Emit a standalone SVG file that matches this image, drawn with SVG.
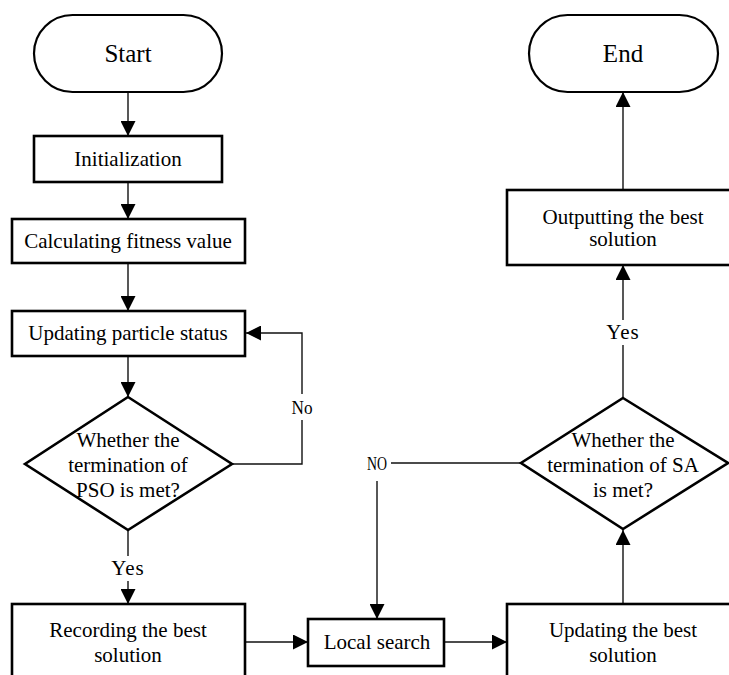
<svg xmlns="http://www.w3.org/2000/svg" width="729" height="675" viewBox="0 0 729 675">
<style>
.box{fill:#fff;stroke:#000;stroke-width:2.6}
.pill{fill:#fff;stroke:#000;stroke-width:2.2}
.dia{fill:#fff;stroke:#000;stroke-width:2.6}
.t{font-family:"Liberation Serif","Times New Roman",serif;font-size:21px;fill:#000;text-anchor:middle}
.tl{font-family:"Liberation Serif","Times New Roman",serif;font-size:25px;fill:#000;text-anchor:middle}
.lbl{font-family:"Liberation Serif","Times New Roman",serif;font-size:21px;fill:#000;text-anchor:middle;letter-spacing:1px}
.sm{font-family:"Liberation Serif","Times New Roman",serif;font-size:19px;fill:#000;text-anchor:middle}
.c{fill:none;stroke:#111;stroke-width:1.4}
.bg{fill:#fff;stroke:none}
</style>
<defs>
<marker id="ah" markerUnits="userSpaceOnUse" markerWidth="15" markerHeight="15" refX="15" refY="7.5" orient="auto">
<path d="M0,0 L15,7.5 L0,15 z" fill="#000"/>
</marker>
</defs>
<rect width="729" height="675" fill="#fff"/>
<g id="connectors">
<line class="c" x1="128" y1="92" x2="128" y2="136" marker-end="url(#ah)"/>
<line class="c" x1="128" y1="182" x2="128" y2="219" marker-end="url(#ah)"/>
<line class="c" x1="128" y1="263" x2="128" y2="311" marker-end="url(#ah)"/>
<line class="c" x1="128" y1="356" x2="128" y2="397" marker-end="url(#ah)"/>
<polyline class="c" points="232,464 302,464 302,333 246,333" marker-end="url(#ah)"/>
<rect class="bg" x="290" y="394" width="24" height="26"/>
<text class="sm" x="302" y="414" textLength="21" lengthAdjust="spacingAndGlyphs">No</text>
<line class="c" x1="128" y1="530" x2="128" y2="604" marker-end="url(#ah)"/>
<rect class="bg" x="110" y="556" width="36" height="25"/>
<text class="lbl" x="128" y="575">Yes</text>
<line class="c" x1="245" y1="642" x2="308" y2="642" marker-end="url(#ah)"/>
<line class="c" x1="444" y1="642" x2="507" y2="642" marker-end="url(#ah)"/>
<line class="c" x1="623" y1="604" x2="623" y2="530" marker-end="url(#ah)"/>
<polyline class="c" points="521,463 377,463 377,619" marker-end="url(#ah)"/>
<rect class="bg" x="365" y="450" width="26" height="31"/>
<text class="sm" x="377" y="470" textLength="20" lengthAdjust="spacingAndGlyphs">NO</text>
<line class="c" x1="623" y1="398" x2="623" y2="265" marker-end="url(#ah)"/>
<rect class="bg" x="605" y="320" width="36" height="25"/>
<text class="lbl" x="623" y="339">Yes</text>
<line class="c" x1="623" y1="190" x2="623" y2="92" marker-end="url(#ah)"/>
</g>
<g id="start">
<rect class="pill" x="34" y="15" width="188" height="77" rx="38.5" ry="38.5"/>
<text class="tl" x="128" y="62">Start</text>
</g>
<g id="init">
<rect class="box" x="34" y="136" width="188" height="46"/>
<text class="t" x="128" y="166">Initialization</text>
</g>
<g id="fitness">
<rect class="box" x="12" y="219" width="233" height="44"/>
<text class="t" x="128" y="248">Calculating fitness value</text>
</g>
<g id="update">
<rect class="box" x="12" y="311" width="233" height="45"/>
<text class="t" x="128" y="340">Updating particle status</text>
</g>
<g id="psoCheck">
<polygon class="dia" points="128,397 232,464 128,530 25,464"/>
<text class="t" x="128" y="447">Whether the</text>
<text class="t" x="128" y="472">termination of</text>
<text class="t" x="128" y="497">PSO is met?</text>
</g>
<g id="record">
<rect class="box" x="12" y="604" width="233" height="90"/>
<text class="t" x="128" y="637">Recording the best</text>
<text class="t" x="128" y="662">solution</text>
</g>
<g id="local">
<rect class="box" x="308" y="619" width="136" height="47"/>
<text class="t" x="377" y="649">Local search</text>
</g>
<g id="updBest">
<rect class="box" x="507" y="604" width="233" height="90"/>
<text class="t" x="623" y="637">Updating the best</text>
<text class="t" x="623" y="662">solution</text>
</g>
<g id="saCheck">
<polygon class="dia" points="623,398 728,463 623,529 521,463"/>
<text class="t" x="623" y="447">Whether the</text>
<text class="t" x="623" y="472">termination of SA</text>
<text class="t" x="623" y="497">is met?</text>
</g>
<g id="output">
<rect class="box" x="507" y="190" width="233" height="75"/>
<text class="t" x="623" y="224">Outputting the best</text>
<text class="t" x="623" y="246">solution</text>
</g>
<g id="end">
<rect class="pill" x="529" y="15" width="189" height="77" rx="38.5" ry="38.5"/>
<text class="tl" x="623" y="62">End</text>
</g>
</svg>
